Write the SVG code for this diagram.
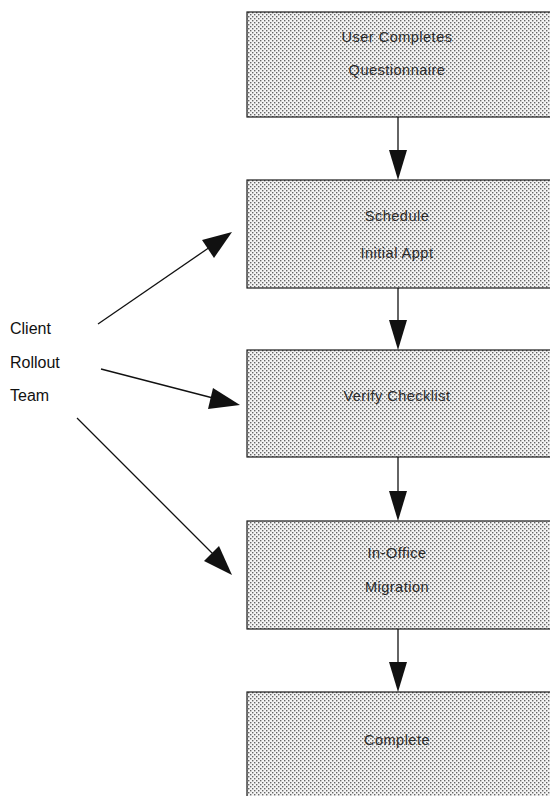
<svg xmlns="http://www.w3.org/2000/svg" width="550" height="796" viewBox="0 0 550 796">
  <style>
    .box { fill: url(#stipple); stroke: #1a1a1a; stroke-width: 1.2; }
    .label { font-family: "Liberation Sans", Arial, sans-serif; font-size: 14.5px; letter-spacing: 0.5px; fill: #2a2a2a; text-anchor: middle; }
    .side { font-family: "Liberation Sans", Arial, sans-serif; font-size: 16px; fill: #111; }
    .link { stroke: #111; stroke-width: 1.3; fill: none; }
    .head { fill: #111; }
  </style>
  <defs>
    <!-- light dotted screen used to shade each step box -->
    <pattern id="stipple" width="4" height="4" patternUnits="userSpaceOnUse">
      <rect width="4" height="4" fill="#f4f4f4"/>
      <rect x="0" y="0" width="1.4" height="1.4" fill="#666"/>
      <rect x="2" y="2" width="1.4" height="1.4" fill="#666"/>
    </pattern>
  </defs>

  <rect width="550" height="796" fill="#ffffff"/>

  <g id="step-questionnaire">
    <rect class="box" x="247" y="12" width="320" height="105"/>
    <text class="label" x="397" y="42">User Completes</text>
    <text class="label" x="397" y="75">Questionnaire</text>
  </g>

  <g id="step-schedule">
    <rect class="box" x="247" y="180" width="320" height="108"/>
    <text class="label" x="397" y="221">Schedule</text>
    <text class="label" x="397" y="258">Initial Appt</text>
  </g>

  <g id="step-verify">
    <rect class="box" x="247" y="350" width="320" height="107"/>
    <text class="label" x="397" y="401">Verify Checklist</text>
  </g>

  <g id="step-migration">
    <rect class="box" x="247" y="521" width="320" height="108"/>
    <text class="label" x="397" y="558">In-Office</text>
    <text class="label" x="397" y="592">Migration</text>
  </g>

  <g id="step-complete">
    <rect class="box" x="247" y="692" width="320" height="120"/>
    <text class="label" x="397" y="745">Complete</text>
  </g>

  <g id="team">
    <text class="side" x="10" y="334">Client</text>
    <text class="side" x="10" y="368">Rollout</text>
    <text class="side" x="10" y="401">Team</text>
  </g>

  <g id="connectors">
    <!-- vertical flow between steps -->
    <line class="link" x1="398" y1="117" x2="398" y2="152"/>
    <polygon class="head" points="389,150 407,150 398,180"/>
    <line class="link" x1="398" y1="288" x2="398" y2="322"/>
    <polygon class="head" points="389,320 407,320 398,350"/>
    <line class="link" x1="398" y1="457" x2="398" y2="493"/>
    <polygon class="head" points="389,491 407,491 398,521"/>
    <line class="link" x1="398" y1="629" x2="398" y2="664"/>
    <polygon class="head" points="389,662 407,662 398,692"/>

    <!-- team to schedule -->
    <line class="link" x1="98" y1="324" x2="210" y2="247"/>
    <polygon class="head" points="232,232 214,258 202,240"/>
    <!-- team to verify -->
    <line class="link" x1="101" y1="369" x2="213" y2="398"/>
    <polygon class="head" points="240,405 208,409 213,388"/>
    <!-- team to migration -->
    <line class="link" x1="77" y1="418" x2="215" y2="556"/>
    <polygon class="head" points="232,575 204,561 219,546"/>
  </g>
</svg>
